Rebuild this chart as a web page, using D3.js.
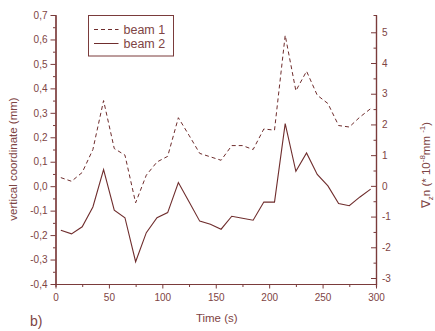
<!DOCTYPE html>
<html>
<head>
<meta charset="utf-8">
<script src="https://cdn.jsdelivr.net/npm/d3@7/dist/d3.min.js"></script>
<style>
  body { margin: 0; background: #fff; }
  text { font-family: "Liberation Sans", Arial, sans-serif; fill: #7e4444; }
</style>
</head>
<body>
<div class="chart"></div>
<script>
var svgWidth = 435;
var svgHeight = 331;

// time points (s)
var times = [5, 15, 25, 35, 45, 55, 65, 75, 85, 95, 105, 115, 125, 135, 145,
  155, 165, 175, 185, 195, 205, 215, 225, 235, 245, 255, 265, 275, 285, 295];

// vertical coordinate (mm)
var beam1 = [0.035, 0.020, 0.056, 0.150, 0.350, 0.154, 0.127, -0.068, 0.045, 0.099,
  0.122, 0.280, 0.208, 0.134, 0.120, 0.106, 0.166, 0.166, 0.150, 0.234,
  0.229, 0.617, 0.390, 0.470, 0.372, 0.338, 0.248, 0.242, 0.283, 0.317];
var beam2 = [-0.180, -0.195, -0.166, -0.085, 0.068, -0.098, -0.129, -0.309, -0.190, -0.129,
  -0.108, 0.015, -0.064, -0.143, -0.156, -0.176, -0.123, -0.131, -0.139, -0.065,
  -0.065, 0.256, 0.061, 0.136, 0.048, 0.001, -0.071, -0.080, -0.044, -0.012];

var xTicks = [0, 50, 100, 150, 200, 250, 300];
var leftTicks = [-4, -3, -2, -1, 0, 1, 2, 3, 4, 5, 6, 7].map(d => d / 10);
var rightTicks = [-3, -2, -1, 0, 1, 2, 3, 4, 5];
var seriesNames = ["beam 1", "beam 2"];

var margin = { top: 15, right: 59, bottom: 47, left: 55.5 };
var width = svgWidth - margin.left - margin.right;
var height = svgHeight - margin.top - margin.bottom;

var axisColor = "#7a3b3b";
var lineColor = "#6f2d2d";

var svg = d3.select(".chart")
  .append("svg")
  .attr("width", svgWidth)
  .attr("height", svgHeight);

var chartGroup = svg.append("g")
  .attr("transform", `translate(${margin.left}, ${margin.top})`);

var xScale = d3.scaleLinear().domain([0, 300]).range([0, width]);
var yLeft = d3.scaleLinear().domain([-0.4, 0.7]).range([height, 0]);
var yRight = d3.scaleLinear().domain([-3.195, 5.563]).range([height, 0]);

function styleAxis(g) {
  g.select(".domain").attr("stroke", axisColor).attr("stroke-width", 1.2);
  g.selectAll(".tick line").attr("stroke", axisColor).attr("stroke-width", 1);
  g.selectAll(".tick text")
    .attr("font-size", "10px")
    .attr("fill", "#7e4444")
    .style("font-family", "Liberation Sans, Arial, sans-serif");
}

// minor ticks
var xMinor = d3.range(25, 300, 50);
var leftMinor = d3.range(-35, 70, 10).map(d => d / 100);
var rightMinor = d3.range(-2.5, 5.5, 1);

chartGroup.append("g")
  .attr("transform", `translate(0, ${height})`)
  .call(d3.axisBottom(xScale).tickValues(xMinor).tickSize(3).tickFormat(""))
  .call(styleAxis);

chartGroup.append("g")
  .call(d3.axisLeft(yLeft).tickValues(leftMinor).tickSize(2.5).tickFormat(""))
  .call(styleAxis);

chartGroup.append("g")
  .attr("transform", `translate(${width}, 0)`)
  .call(d3.axisRight(yRight).tickValues(rightMinor).tickSize(-2.5).tickFormat(""))
  .call(styleAxis);

// major axes
chartGroup.append("g")
  .attr("transform", `translate(0, ${height})`)
  .call(d3.axisBottom(xScale).tickValues(xTicks).tickSize(4.5).tickPadding(5).tickSizeOuter(0))
  .call(styleAxis);

chartGroup.append("g")
  .call(d3.axisLeft(yLeft).tickValues(leftTicks).tickSize(5).tickPadding(3).tickSizeOuter(0)
    .tickFormat(d => d.toFixed(1).replace(".", ",")))
  .call(styleAxis);

var rightAxis = chartGroup.append("g")
  .attr("transform", `translate(${width}, 0)`)
  .call(d3.axisRight(yRight).tickValues(rightTicks).tickSize(-5).tickPadding(0).tickSizeOuter(0)
    .tickFormat(d => String(d)))
  .call(styleAxis);
rightAxis.selectAll(".tick text").attr("x", 6);

// lines
var line = d3.line()
  .x((d, i) => xScale(times[i]))
  .y(d => yLeft(d));

chartGroup.append("path")
  .datum(beam1)
  .attr("fill", "none")
  .attr("stroke", lineColor)
  .attr("stroke-width", 1)
  .attr("stroke-dasharray", "4,3")
  .attr("d", line);

chartGroup.append("path")
  .datum(beam2)
  .attr("fill", "none")
  .attr("stroke", lineColor)
  .attr("stroke-width", 1.1)
  .attr("d", line);

// legend
var legend = svg.append("g").attr("transform", "translate(88.5, 15.5)");
legend.append("rect")
  .attr("width", 85)
  .attr("height", 40.5)
  .attr("fill", "#fff")
  .attr("stroke", axisColor)
  .attr("stroke-width", 1);

seriesNames.forEach(function(name, i) {
  var y = 14 + i * 14;
  legend.append("line")
    .attr("x1", 5.5).attr("x2", 30)
    .attr("y1", y).attr("y2", y)
    .attr("stroke", lineColor)
    .attr("stroke-width", 1)
    .attr("stroke-dasharray", i === 0 ? "4,3" : null);
  legend.append("text")
    .attr("x", 35)
    .attr("y", y + 4.5)
    .attr("font-size", "12.5px")
    .text(name);
});

// axis titles
svg.append("text")
  .attr("x", margin.left + width / 2 + 1)
  .attr("y", 322)
  .attr("text-anchor", "middle")
  .attr("font-size", "11.5px")
  .text("Time (s)");

svg.append("text")
  .attr("transform", "translate(17, 159) rotate(-90)")
  .attr("text-anchor", "middle")
  .attr("font-size", "11.5px")
  .text("vertical coordinate (mm)");

var rTitle = svg.append("text")
  .attr("transform", "translate(430, 165) rotate(-90)")
  .attr("text-anchor", "middle")
  .attr("font-size", "11.5px");
rTitle.append("tspan").text("\u2207");
rTitle.append("tspan").attr("font-size", "8px").attr("dy", 3).text("z");
rTitle.append("tspan").attr("dy", -3).text("n (* 10");
rTitle.append("tspan").attr("font-size", "8px").attr("dy", -5).text("-8");
rTitle.append("tspan").attr("dy", 5).text("mm ");
rTitle.append("tspan").attr("font-size", "8px").attr("dy", -5).text("-1");
rTitle.append("tspan").attr("dy", 5).text(")");

svg.append("text")
  .attr("x", 30)
  .attr("y", 326)
  .attr("font-size", "14px")
  .text("b)");
</script>
</body>
</html>
